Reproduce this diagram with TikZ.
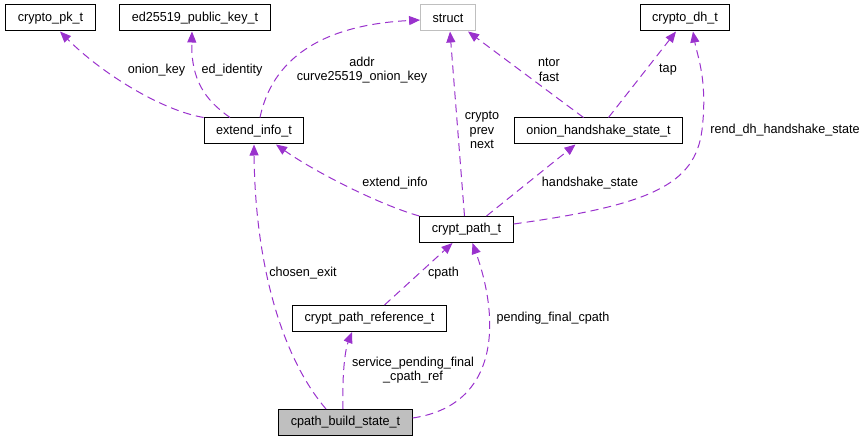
\documentclass[tikz,border=0pt]{standalone}
\usepackage{fontspec}
\setmainfont[FakeStretch=0.97]{Liberation Sans}
\usetikzlibrary{arrows.meta}
\definecolor{orchid}{HTML}{9A32CD}
\definecolor{lightrim}{HTML}{BFBFBF}
\tikzset{
  cls/.style={draw=black, line width=1pt, fill=white, font=\fontsize{13}{14}\selectfont,
              inner xsep=12pt, inner ysep=0pt, minimum height=26pt},
  ext/.style={draw=lightrim},
  focus/.style={fill=lightrim},
  uses/.style={-{Triangle[length=11pt,width=9pt]}, orchid, line width=1pt, dash pattern=on 8pt off 5pt},
  role/.style={font=\fontsize{13}{14.5}\selectfont, align=center, inner sep=0pt}
}

\begin{document}
\begin{tikzpicture}[x=1pt, y=-1pt]
\useasboundingbox (0,0) rectangle (868,441);
% classes
\node[cls] (pk) at (50.5,18) {crypto\_pk\_t};
\node[cls] (ed) at (195,18) {ed25519\_public\_key\_t};
\node[cls, ext] (st) at (448,18) {struct};
\node[cls] (dh) at (685,18) {crypto\_dh\_t};
\node[cls] (ei) at (254,131) {extend\_info\_t};
\node[cls] (oh) at (598.5,131) {onion\_handshake\_state\_t};
\node[cls] (cp) at (466.5,229.5) {crypt\_path\_t};
\node[cls] (cpr) at (369.5,318.5) {crypt\_path\_reference\_t};
\node[cls, focus] (cps) at (345.5,422.5) {cpath\_build\_state\_t};
% members
\draw[uses] (ei.north west) .. controls (160,110) and (100,72) .. ([xshift=9.5pt]pk.south);
\draw[uses] ([xshift=-24pt]ei.north) .. controls (205,100) and (191,80) .. ([xshift=-3pt]ed.south);
\draw[uses] ([xshift=6pt]ei.north) .. controls (272,60) and (320,25) .. ([yshift=-2pt]st.west);
\draw[uses] ([xshift=-2pt]cp.north) -- ([xshift=2pt]st.south);
\draw[uses] ([xshift=-15pt]oh.north) -- ([xshift=20pt]st.south);
\draw[uses] ([xshift=10pt]oh.north) -- ([xshift=-9pt]dh.south);
\draw[uses] ([xshift=20pt]cp.north) -- ([xshift=-23pt]oh.south);
\draw[uses] ([yshift=5.5pt]cp.east) .. controls (650,205) and (695,185) .. (702,130)
            .. controls (708,80) and (697,55) .. ([xshift=8pt]dh.south);
\draw[uses] (cp.north west) .. controls (380,205) and (315,172) .. ([xshift=22pt]ei.south);
\draw[uses] ([xshift=-19.5pt]cps.north) .. controls (280,355) and (255,260) .. (ei.south);
\draw[uses] ([xshift=-2.5pt]cps.north) .. controls (342,375) and (345,350) .. ([xshift=-17.5pt]cpr.south);
\draw[uses] ([xshift=15pt]cpr.north) -- ([xshift=-14pt]cp.south);
\draw[uses] ([yshift=4.5pt]cps.east) .. controls (500,405) and (500,320) .. ([xshift=6pt]cp.south);
% labels
\node[role] (l1) at (156.5,70) {onion\_key};
\node[role] (l2) at (232,70) {ed\_identity};
\node[role] (l3) at (362,70) {addr\\curve25519\_onion\_key};
\node[role] (l4) at (482,130) {crypto\\prev\\next};
\node[role] (l5) at (549,70) {ntor\\fast};
\node[role] (l6) at (668,70) {tap};
\node[role] (l7) at (785,130) {rend\_dh\_handshake\_state};
\node[role] (l8) at (395,183) {extend\_info};
\node[role] (l9) at (590,183) {handshake\_state};
\node[role] (l10) at (303,273) {chosen\_exit};
\node[role] (l11) at (443.5,273) {cpath};
\node[role] (l12) at (553,318) {pending\_final\_cpath};
\node[role] (l13) at (413,370) {service\_pending\_final\\\_cpath\_ref};
\end{tikzpicture}
\end{document}
